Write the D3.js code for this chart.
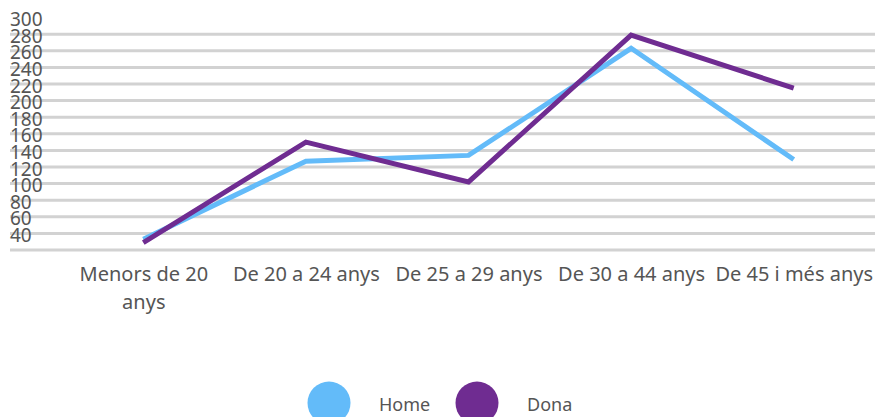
<!DOCTYPE html>
<html>
<head>
<meta charset="utf-8">
<script src="https://cdn.jsdelivr.net/npm/d3@7"></script>
<style>
    body { margin: 0; background: #fff; }
    text { font-family: "Noto Sans", sans-serif; fill: #555; }
</style>
</head>
<body>
<div id="chart"></div>
<script>
/* Line chart: Home vs Dona per age group */

const categories = ["Menors de 20 anys", "De 20 a 24 anys", "De 25 a 29 anys", "De 30 a 44 anys", "De 45 i més anys"];
const home = [33, 127, 134, 263, 129];
const dona = [29, 150, 102, 279, 215];
const yTicks = [40, 60, 80, 100, 120, 140, 160, 180, 200, 220, 240, 260, 280, 300];
const gridValues = [20, 40, 60, 80, 100, 120, 140, 160, 180, 200, 220, 240, 260, 280];
const seriesNames = ["Home", "Dona"];
const colors = ["#63bbf9", "#6f2c91"];

const width = 875,
    height = 417,
    margin = ({top: 17.6, right: 0, bottom: 167, left: 62});

let svg = d3.select("#chart")
    .append("svg")
    .attr("width", width)
    .attr("height", height);

let x = d3.scalePoint()
    .domain(categories)
    .range([margin.left, width - margin.right])
    .padding(0.5);

let y = d3.scaleLinear()
    .domain([20, 300])
    .range([height - margin.bottom, margin.top]);

// gridlines (one step below the labels, like the original)
svg.append("g")
    .selectAll("line")
    .data(gridValues)
    .join("line")
    .attr("x1", 10)
    .attr("x2", width)
    .attr("y1", d => y(d))
    .attr("y2", d => y(d))
    .attr("stroke", "#d2d2d2")
    .attr("stroke-width", 3);

// y labels, left aligned
const yAxis = g => g
    .attr("transform", `translate(10,2)`)
    .call(d3.axisRight(y).tickValues(yTicks).tickSize(0).tickPadding(0))
    .call(g => g.select(".domain").remove())
    .call(g => g.selectAll("text")
        .attr("font-size", 19)
        .attr("font-family", null)
        .attr("fill", null));

svg.append("g").call(yAxis);

// x labels, wrapped
const xAxis = g => g
    .attr("transform", `translate(0,${y(20) + 17})`)
    .call(d3.axisBottom(x).tickSize(0).tickPadding(0))
    .call(g => g.select(".domain").remove())
    .call(g => g.selectAll("text")
        .attr("font-size", 20)
        .attr("font-family", null)
        .attr("fill", null)
        .call(wrap, 158));

svg.append("g").call(xAxis);

function wrap(texts, w) {
    texts.each(function() {
        let text = d3.select(this),
            words = text.text().split(/\s+/),
            dy = text.attr("dy"),
            line = [],
            tspan = text.text(null).append("tspan").attr("x", 0).attr("dy", dy);
        for (let word of words) {
            line.push(word);
            tspan.text(line.join(" "));
            if (tspan.node().getComputedTextLength() > w && line.length > 1) {
                line.pop();
                tspan.text(line.join(" "));
                line = [word];
                tspan = text.append("tspan").attr("x", 0).attr("dy", "1.4em").text(word);
            }
        }
    });
}

// lines
const series = [home, dona];
const line = d3.line()
    .x((d, i) => x(categories[i]))
    .y(d => y(d));

svg.append("g")
    .selectAll("path")
    .data(series)
    .join("path")
    .attr("fill", "none")
    .attr("stroke", (d, i) => colors[i])
    .attr("stroke-width", 5)
    .attr("d", line);

// legend
let legend = svg.append("g")
    .selectAll("g")
    .data(seriesNames)
    .join("g")
    .attr("transform", (d, i) => `translate(${329 + i * 148},403)`);

legend.append("circle")
    .attr("r", 21.5)
    .attr("fill", (d, i) => colors[i]);

legend.append("text")
    .attr("x", 50)
    .attr("y", 2)
    .attr("dy", "0.35em")
    .attr("font-size", 18)
    .text(d => d);
</script>
</body>
</html>
